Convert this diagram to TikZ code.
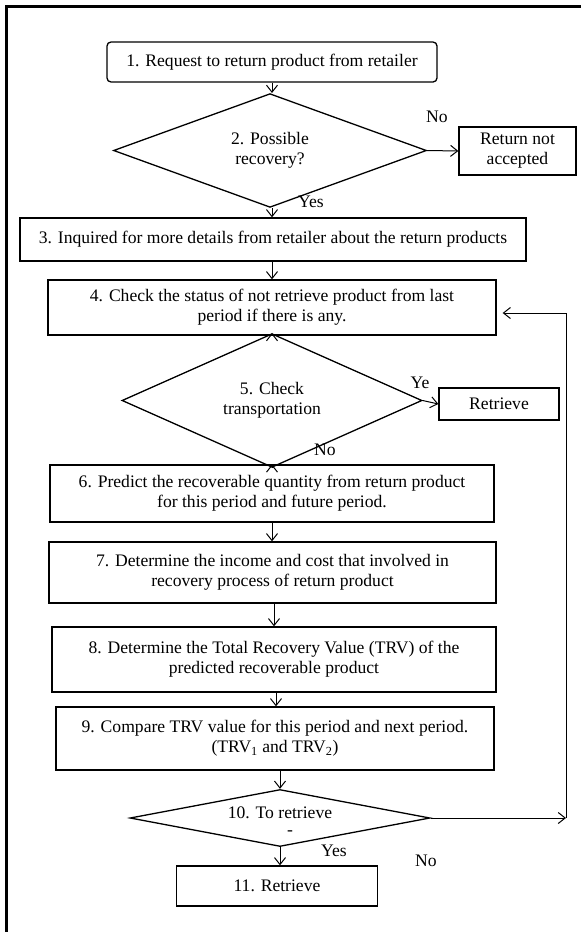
\documentclass[tikz,border=0pt]{standalone}
\usepackage{fontspec}
\setmainfont{Liberation Serif}
\usetikzlibrary{arrows.meta,shapes.geometric,calc}
\begin{document}
\begin{tikzpicture}[x=1pt,y=-1pt,
  every node/.style={font=\fontsize{17.6}{20}\selectfont, inner sep=0pt},
  box/.style={draw, line width=1.3pt, align=center},
  rbox/.style={box, rounded corners=4pt},
  dia/.style={draw, diamond, line width=1.3pt, align=center},
  arr/.style={line width=1pt, -{Straight Barb[length=7pt,width=11pt,line width=1pt]}},
  lbl/.style={font=\fontsize{17.6}{20}\selectfont}]
\useasboundingbox (0,0) rectangle (581,932);
% frame (top and left edges)
\draw[line width=3pt] (6.5,932) -- (6.5,6.5) -- (581,6.5);

\node[rbox, minimum width=330pt, minimum height=40pt] (b1) at (272,62) {1. Request to return product from retailer};
\node[dia, minimum width=313pt, minimum height=93pt] (d2) at (270,150.5) {2. Possible\\recovery?};
\node[box, minimum width=117pt, minimum height=48pt] (rna) at (517.5,151) {Return not\\accepted};
\node[box, minimum width=506pt, minimum height=43pt] (b3) at (273,239.5) {3. Inquired for more details from retailer about the return products};
\node[box, minimum width=448pt, minimum height=55pt] (b4) at (272,307.5) {4. Check the status of not retrieve product from last\\period if there is any.};
\node[dia, minimum width=300pt, minimum height=87pt] (d5) at (272,400.5) {5. Check\\transportation};
\node[box, minimum width=120pt, minimum height=32pt] (ret) at (499,404) {Retrieve};
\node[box, minimum width=444pt, minimum height=57pt] (b6) at (272,493.5) {6. Predict the recoverable quantity from return product\\for this period and future period.};
\node[box, minimum width=447pt, minimum height=61pt] (b7) at (272.5,572.5) {7. Determine the income and cost that involved in\\recovery process of return product};
\node[box, minimum width=444pt, minimum height=65pt] (b8) at (274,659.5) {8. Determine the Total Recovery Value (TRV) of the\\predicted recoverable product};
\node[box, minimum width=438pt, minimum height=63pt] (b9) at (275,738.5) {9. Compare TRV value for this period and next period.\\(TRV\textsubscript{1} and TRV\textsubscript{2})};
\node[dia, minimum width=300pt, minimum height=57pt] (d10) at (280,818) {};
\node (t10) at (280,813) {10. To retrieve};
\node (dash10) at (290,833) {-};
\node[box, minimum width=201pt, minimum height=40pt] (b11) at (277,886) {11. Retrieve};

% labels
\node[lbl] (no2) at (437,117) {No};
\node[lbl] (yes2) at (311,202) {Yes};
\node[lbl] (ye5) at (420,383) {Ye};
\node[lbl] (no5) at (325,450) {No};
\node[lbl] (yes10) at (334,851) {Yes};
\node[lbl] (no10) at (426,861) {No};

% connectors
\coordinate (c1) at (566,818);
\coordinate (c2) at (566,313);
\draw[arr] (b1.south -| 272,0) -- (d2.north -| 272,0);
\draw[arr] (d2.east) -- (rna.west);
\draw[arr] (d2.south -| 272,0) -- (b3.north -| 272,0);
\draw[arr] (b3.south -| 272,0) -- (b4.north -| 272,0);
\draw[arr] (b4.south -| 272,0) -- (d5.north -| 272,0);
\draw[arr] (d5.east) -- (ret.west);
\draw[arr] (d5.south -| 272,0) -- (b6.north -| 272,0);
\draw[arr] (b6.south -| 272,0) -- (b7.north -| 272,0);
\draw[arr] (b7.south -| 274,0) -- (b8.north -| 274,0);
\draw[arr] (b8.south -| 276,0) -- (b9.north -| 276,0);
\draw[arr] (b9.south -| 280,0) -- (d10.north -| 280,0);
\draw[arr] (d10.south -| 280,0) -- (b11.north -| 280,0);
\draw[arr] (d10.east) -- (c1);
\draw[arr, shorten >=6pt] (c1) -- (c2) -- (c2 -| b4.east);
\end{tikzpicture}
\end{document}
